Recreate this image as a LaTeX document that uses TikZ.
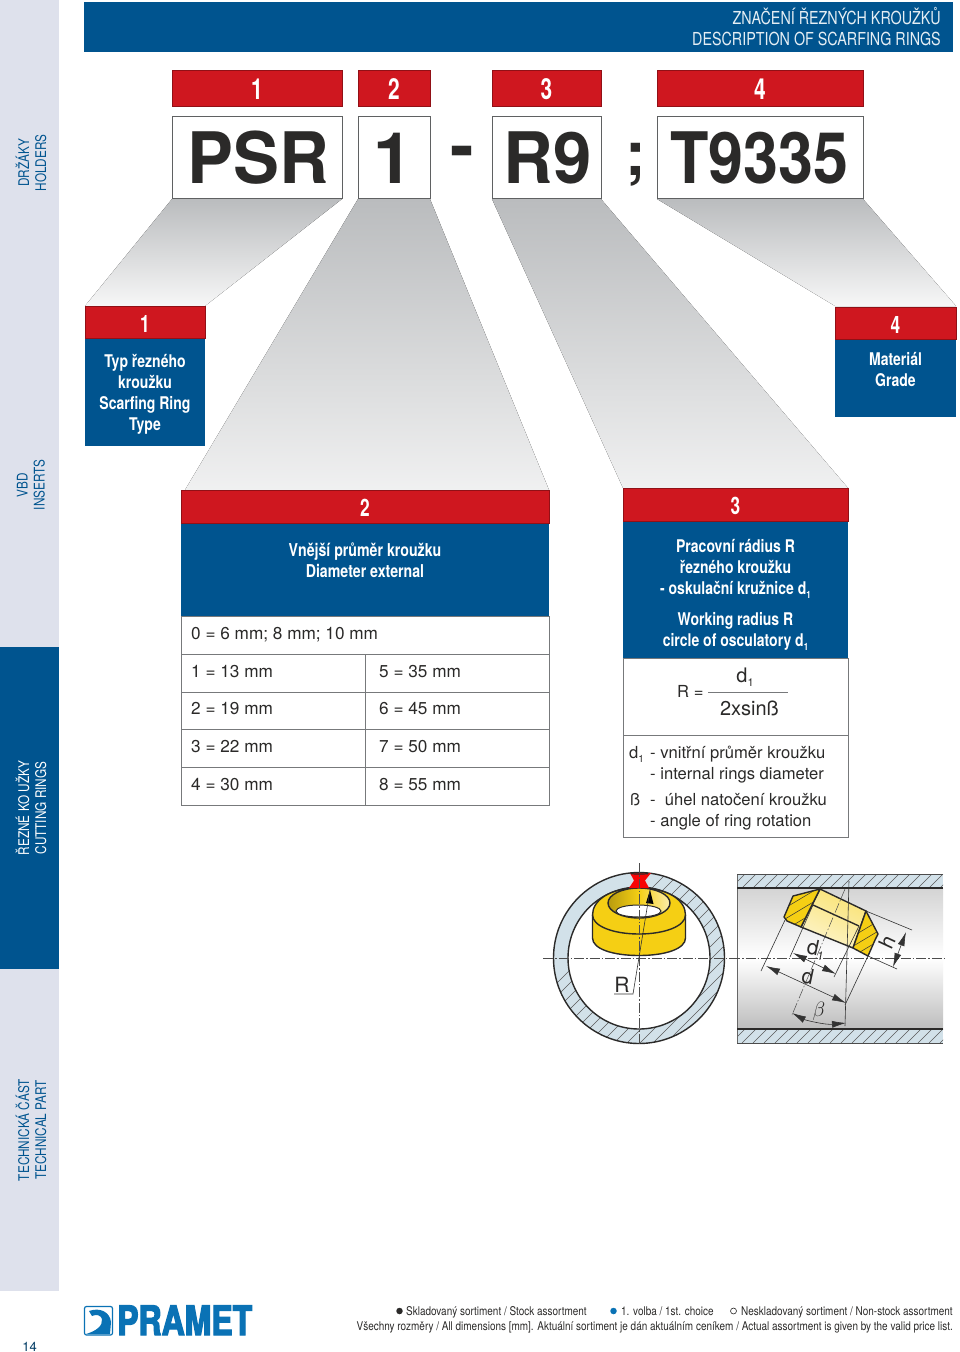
\documentclass[tikz,border=0pt]{standalone}
\usepackage{fontspec}
\usepackage{graphicx}
\setmainfont{TeX Gyre Heros}
\newfontfamily\cnd[FakeStretch=0.8]{TeX Gyre Heros}
\newfontfamily\cndside[FakeStretch=0.8]{TeX Gyre Heros}
\newfontfamily\cndn[FakeStretch=0.72]{TeX Gyre Heros}
\newfontfamily\lgd[FakeStretch=0.83]{TeX Gyre Heros}
\newfontfamily\logofont[FakeStretch=0.78,FakeBold=3]{TeX Gyre Heros}
\usetikzlibrary{arrows.meta,shadings}
\definecolor{pblue}{HTML}{00548F}
\definecolor{pred}{HTML}{CF171F}
\definecolor{side}{HTML}{DEE1EC}
\definecolor{ink}{HTML}{2B2A29}
\definecolor{lineg}{HTML}{77797B}
\definecolor{hatchf}{HTML}{D2E1E9}
\definecolor{logoblue}{HTML}{0A72B5}
\definecolor{ringy}{HTML}{F5CF14}
\definecolor{fungrey}{HTML}{BABCBE}
\tikzset{
  x=1pt,y=-1pt,
  redbox/.style={fill=pred,draw=pred!70!black,line width=.6pt},
  bluebox/.style={fill=pblue},
  codebox/.style={fill=white,draw=lineg!80!black,line width=.8pt},
  funnelA/.style={top color=fungrey,bottom color=fungrey!12,draw=none},
  funnelB/.style={top color=fungrey,bottom color=fungrey!22,draw=none},
  rednum/.style={text=white,font=\cndn\bfseries\fontsize{29}{29}\selectfont,inner sep=0pt},
  rednumS/.style={text=white,font=\cndn\bfseries\fontsize{24}{24}\selectfont,inner sep=0pt},
  codetext/.style={text=ink,font=\bfseries\fontsize{71}{71}\selectfont,inner sep=0pt},
  bluetext/.style={text=white,font=\cnd\bfseries\fontsize{17.5}{21}\selectfont,inner sep=0pt,align=center},
  rowtext/.style={text=ink,font=\fontsize{17.2}{17}\selectfont,inner sep=0pt,anchor=base west},
  notetext/.style={text=ink,font=\fontsize{16.6}{17}\selectfont,inner sep=0pt,anchor=base west},
  rowline/.style={draw=lineg,line width=.6pt},
  sidetext/.style={text=pblue,font=\cndside\fontsize{14.7}{17}\selectfont,rotate=90,inner sep=0pt,align=center},
  sidetextw/.style={sidetext,text=white},
  legend/.style={text=ink,font=\lgd\fontsize{12}{12}\selectfont,inner sep=0pt,anchor=base west},
  centerline/.style={draw=black!70,line width=.5pt,dash pattern=on 10pt off 2pt on 1.5pt off 2pt},
  hatchline/.style={draw=black!65,line width=.5pt},
  thin dim/.style={draw=black!80,line width=.6pt},
  dimarrow/.style={thin dim,{Latex[length=14pt,width=7pt]}-{Latex[length=14pt,width=7pt]}},
  thick outline/.style={draw=ink,line width=1.4pt,line join=round},
}
\begin{document}
\begin{tikzpicture}
\useasboundingbox (0,0) rectangle (960,1352);
\fill[white] (0,0) rectangle (960,1352);
% sidebar
\fill[side] (0,0) rectangle (59,1291);
\fill[pblue] (0,647) rectangle (59,969);
\node[sidetext] (sideA) at (31,163) {DRŽÁKY\\HOLDERS};
\node[sidetext] (sideB) at (31,485) {VBD\\INSERTS};
\node[sidetextw] (sideC) at (31,808) {ŘEZNÉ KO UŽKY\\CUTTING RINGS};
\node[sidetext] (sideD) at (31,1130) {TECHNICKÁ ČÁST\\TECHNICAL PART};
% header
\fill[pblue] (84,2) rectangle (953,52);
\node[text=white!90!pblue,font=\cnd\fontsize{17.9}{21}\selectfont,anchor=east,align=right,inner sep=0pt] (head) at (941,27) {ZNAČENÍ ŘEZNÝCH KROUŽKŮ\\DESCRIPTION OF SCARFING RINGS};
% funnels
\fill[funnelA] (172,199) -- (342,199) -- (205,306) -- (85,306) -- cycle;
\fill[funnelB] (358,199) -- (430,199) -- (549,490) -- (185,490) -- cycle;
\fill[funnelB] (492,199) -- (601,199) -- (848,488) -- (623,488) -- cycle;
\fill[funnelA] (657,199) -- (863,199) -- (956,306) -- (835,306) -- cycle;
% code row
\path[redbox] (172,70) rectangle (342,106);
\path[redbox] (358,70) rectangle (430,106);
\path[redbox] (492,70) rectangle (601,106);
\path[redbox] (657,70) rectangle (863,106);
\node[rednum] (n1) at (257,89) {1};
\node[rednum] (n2) at (394,89) {2};
\node[rednum] (n3) at (546.5,89) {3};
\node[rednum] (n4) at (760,89) {4};
\path[codebox] (172,116) rectangle (342,198);
\path[codebox] (358,116) rectangle (430,198);
\path[codebox] (492,116) rectangle (601,198);
\path[codebox] (657,116) rectangle (863,198);
\node[codetext,anchor=base] (c1) at (258,183) {\scalebox{.97}[1]{PSR}};
\node[codetext,anchor=base] (c2) at (393,183) {1};
\node[codetext,anchor=base] (c3) at (547.5,183) {\scalebox{.97}[1]{R9}};
\node[codetext,anchor=base] (c4) at (759.5,183) {\scalebox{.885}[1]{T9335}};
\node[codetext,anchor=base] (dash) at (462,170) {-};
\node[codetext,anchor=base,font=\bfseries\fontsize{62}{62}\selectfont] (semi) at (635.5,175) {;};
% box 1
\path[bluebox] (85,338) rectangle (205,446);
\path[redbox] (85,306) rectangle (205,338);
\node[rednumS] (b1n) at (145,323.5) {1};
\node[bluetext] (b1t) at (145,394) {Typ řezného\\kroužku\\Scarfing Ring\\Type};
% box 4
\path[bluebox] (835,339) rectangle (956,417);
\path[redbox] (835,307) rectangle (956,339);
\node[rednumS] (b4n) at (895.5,324.5) {4};
\node[bluetext] (b4t) at (895.5,369.5) {Materiál\\Grade};
% box 2
\path[rowline,fill=white] (181,616) rectangle (549,805);
\path[bluebox] (181,523) rectangle (549,616);
\path[redbox] (181,490) rectangle (549,523);
\node[rednumS] (b2n) at (365,508) {2};
\node[bluetext,font=\cnd\bfseries\fontsize{17.7}{21}\selectfont] (b2t) at (365,560.5) {Vnější průměr kroužku\\Diameter external};
\draw[rowline] (181,654) -- (549,654);
\draw[rowline] (181,692) -- (549,692);
\draw[rowline] (181,729) -- (549,729);
\draw[rowline] (181,767) -- (549,767);
\draw[rowline] (365,654) -- (365,805);
\node[rowtext] (r0) at (191,639) {0 = 6 mm; 8 mm; 10 mm};
\node[rowtext] (r1) at (191,677) {1 = 13 mm};
\node[rowtext] (r2) at (191,714) {2 = 19 mm};
\node[rowtext] (r3) at (191,752) {3 = 22 mm};
\node[rowtext] (r4) at (191,790) {4 = 30 mm};
\node[rowtext] (r5) at (379,677) {5 = 35 mm};
\node[rowtext] (r6) at (379,714) {6 = 45 mm};
\node[rowtext] (r7) at (379,752) {7 = 50 mm};
\node[rowtext] (r8) at (379,790) {8 = 55 mm};
% box 3
\path[rowline,fill=white] (623,658) rectangle (848,837);
\path[bluebox] (623,521) rectangle (848,658);
\path[redbox] (623,488) rectangle (848,521);
\node[rednumS] (b3n) at (735.5,506) {3};
\node[bluetext,anchor=base] (b3a) at (735.5,552) {Pracovní rádius R};
\node[bluetext,anchor=base] (b3b) at (735.5,573) {řezného kroužku};
\node[bluetext,anchor=base] (b3c) at (735.5,594) {- oskulační kružnice d\raisebox{-4pt}{\fontsize{10}{10}\selectfont 1}};
\node[bluetext,anchor=base] (b3d) at (735.5,625) {Working radius R};
\node[bluetext,anchor=base] (b3e) at (735.5,646) {circle of osculatory d\raisebox{-4pt}{\fontsize{10}{10}\selectfont 1}};
\draw[rowline] (623,735) -- (848,735);
\node[notetext] (fR) at (677,697) {R =};
\draw[rowline] (708,692.5) -- (788,692.5);
\node[rowtext,font=\fontsize{20}{20}\selectfont,anchor=base] (fd) at (745,682) {d\raisebox{-4pt}{\fontsize{11}{11}\selectfont 1}};
\node[rowtext,font=\fontsize{20}{20}\selectfont,anchor=base] (fs) at (749.5,715) {2xsinß};
\node[notetext] (t1a) at (629,758) {d\raisebox{-4pt}{\fontsize{10}{10}\selectfont 1}};
\node[notetext] (t1b) at (650,758) {- vnitřní průměr kroužku};
\node[notetext] (t1c) at (650,779) {- internal rings diameter};
\node[notetext] (t2a) at (630,805) {ß};
\node[notetext] (t2b) at (650,805) {-\ \ úhel natočení kroužku};
\node[notetext] (t2c) at (650,826) {- angle of ring rotation};
% circle section
\fill[hatchf,even odd rule] (639,958) circle[radius=85.5] (639,958) circle[radius=71];
\begin{scope}[even odd rule]
  \clip (639,958) circle[radius=85.5] (639,958) circle[radius=71];
  \foreach \k in {0,...,26} {
    \draw[hatchline] (540+\k*13-60,1060) -- (540+\k*13+140,860);
  }
\end{scope}
\draw[thick outline] (639,958) circle[radius=85.5];
\draw[thick outline] (639,958) circle[radius=71];
% yellow ring
\path[fill=ringy,thick outline] (592.5,915) .. controls (592.5,900) and (610,888) .. (639,888) .. controls (668,888) and (685.5,900) .. (685.5,915) -- (685.5,938) .. controls (685.5,949) and (665,955.5) .. (639,955.5) .. controls (613,955.5) and (592.5,949) .. (592.5,938) -- cycle;
\draw[thick outline] (592.5,915) .. controls (592.5,926) and (613,934) .. (639,934) .. controls (665,934) and (685.5,926) .. (685.5,915);
\path[left color=ringy!75!black,right color=ringy!35,middle color=ringy,thick outline] (639,903) ellipse[x radius=31,y radius=15];
\path[fill=white,draw=ink,line width=1pt] (638.5,911) ellipse[x radius=22.5,y radius=6];
% red marker
\fill[red!85!pred] (630,873) -- (651,873) -- (645,880.5) -- (649,888) -- (629,888) -- (634,880.5) -- cycle;
\draw[ink,line width=1.2pt] (630.5,873.6) arc[start angle=96,end angle=84,radius=85.5];
\draw[centerline] (543,958) -- (737,958);
\draw[centerline] (639,863) -- (639,1045);
\coordinate (rapex) at (650,890);
\coordinate (rfoot) at (633,994);
\coordinate (rend) at (614,994);
\fill[black] (rapex) -- (653.5,904) -- (646,903) -- cycle;
\draw[thin dim] (rapex) -- (rfoot) -- (rend);
\node[inner sep=0pt,text=ink,font=\fontsize{21}{21}\selectfont,anchor=base] (Rl) at (622,992) {R};
% tube section
\path[top color=black!17,bottom color=white] (737,888) rectangle (943,958);
\path[top color=white,bottom color=black!26] (737,958) rectangle (943,1029);
\fill[hatchf] (737,874) rectangle (943,888);
\fill[hatchf] (737,1029) rectangle (943,1043);
\begin{scope}
  \clip (737,874) rectangle (943,888);
  \foreach \k in {0,...,22} {\draw[hatchline] (720+\k*11,888) -- (734+\k*11,874);}
\end{scope}
\begin{scope}
  \clip (737,1029) rectangle (943,1043);
  \foreach \k in {0,...,22} {\draw[hatchline] (720+\k*11,1043) -- (734+\k*11,1029);}
\end{scope}
\draw[draw=black!60,line width=.7pt] (737,874) -- (737,1043);
\draw[draw=black!70,line width=1pt] (737,874) -- (943,874);
\draw[draw=black!70,line width=.6pt] (737,1043) -- (943,1043);
\draw[draw=ink,line width=1.4pt] (737,888) -- (943,888);
\draw[draw=ink,line width=1.4pt] (737,1029) -- (943,1029);
\draw[centerline] (730,958) -- (945,958);
% tilted ring
\path[left color=ringy!60,middle color=white!92!ringy,right color=ringy!22,shading angle=-25,thick outline] (820,889) -- (866,911) -- (853,948) -- (801,927) -- cycle;
\draw[thick outline] (813,905) -- (859,926);
\path[fill=ringy,thick outline] (793,896) -- (820,889) -- (801,927) -- (787,921) -- (784,917) -- cycle;
\path[fill=ringy,thick outline] (866,911) -- (878,934) -- (875,940) -- (868,956) -- (853,948) -- cycle;
\begin{scope}
  \clip (793,896) -- (820,889) -- (801,927) -- (787,921) -- (784,917) -- cycle;
  \foreach \k in {0,1,2,3} {\draw[hatchline,black!80] (780,911+\k*11) -- (820,887+\k*11);}
\end{scope}
\begin{scope}
  \clip (866,911) -- (878,934) -- (875,940) -- (868,956) -- (853,948) -- cycle;
  \foreach \k in {0,1,2,3} {\draw[hatchline,black!80] (850,938+\k*10) -- (880,920+\k*10);}
\end{scope}
% dimensions
\coordinate (vt) at (849,881);
\coordinate (vb) at (845,1026);
\coordinate (ax) at (792,1015);
\coordinate (axt) at (845,889);
\draw[thin dim] (vt) -- (vb);
\draw[centerline] (axt) -- (ax);
\coordinate (dl0) at (785,920); \coordinate (dl1) at (761,971);
\coordinate (dr0) at (868,956); \coordinate (dr1) at (845,1005);
\draw[thin dim] (dl0) -- (dl1);
\draw[thin dim] (dr0) -- (dr1);
\coordinate (da) at (766,966); \coordinate (db) at (846,1003);
\draw[dimarrow] (da) -- (db);
\coordinate (d1l0) at (813,905); \coordinate (d1l1) at (790,957);
\coordinate (d1r0) at (859,926); \coordinate (d1r1) at (834,977);
\draw[thin dim] (d1l0) -- (d1l1);
\draw[thin dim] (d1r0) -- (d1r1);
\coordinate (d1a) at (793,953); \coordinate (d1b) at (836,974);
\draw[dimarrow] (d1a) -- (d1b);
\coordinate (ha) at (906,932); \coordinate (hb) at (893,967);
\coordinate (hl0) at (866,911); \coordinate (hl1) at (912,930);
\coordinate (hr0) at (868,956); \coordinate (hr1) at (897,969);
\draw[thin dim] (hl0) -- (hl1);
\draw[thin dim] (hr0) -- (hr1);
\draw[dimarrow] (ha) -- (hb);
\coordinate (bl) at (792,1013); \coordinate (br) at (846,1023);
\draw[dimarrow] (bl) .. controls (805,1020) and (825,1025) .. (br);
\node[inner sep=0pt,text=ink,font=\fontsize{21}{21}\selectfont,rotate=-12] (dlab) at (808,976) {d};
\node[inner sep=0pt,text=ink,font=\fontsize{21}{21}\selectfont,rotate=-12] (d1lab) at (816,950) {d\raisebox{-4pt}{\fontsize{12}{12}\selectfont 1}};
\node[inner sep=0pt,text=ink,font=\fontsize{21}{21}\selectfont,rotate=65] (hlab) at (887,942) {h};
\node[inner sep=0pt,text=ink,font=\fontsize{21}{21}\selectfont] (blab) at (819,1011) {$\beta$};
% logo
\path[fill=white,draw=logoblue,line width=1.2pt,rounded corners=2pt] (84.5,1306.5) rectangle (112.5,1335);
\fill[logoblue] (89,1311) .. controls (100,1307) and (110,1312) .. (111,1322) -- (110,1334) -- (86,1334) .. controls (96,1331) and (103,1326) .. (102,1319) .. controls (101,1315) and (96,1314) .. (92,1316) -- cycle;
\node[anchor=base west,inner sep=0pt,text=logoblue] (logo) at (117,1335) {\resizebox{135pt}{29.5pt}{\logofont\bfseries PRAMET}};
\node[inner sep=0pt,text=pblue!70!black,font=\fontsize{13}{13}\selectfont] (page) at (29.5,1346.5) {14};
% legend
\node[circle,fill=ink,inner sep=0pt,minimum size=6.5pt] (la) at (399.5,1311) {};
\node[legend] (lat) at (406,1315) {Skladovaný sortiment / Stock assortment};
\node[circle,fill=logoblue,inner sep=0pt,minimum size=6.5pt] (lb) at (613.5,1311) {};
\node[legend] (lbt) at (621,1315) {1. volba / 1st. choice};
\node[circle,fill=white,draw=ink,line width=.6pt,inner sep=0pt,minimum size=6pt] (lc) at (733.5,1311) {};
\node[legend] (lct) at (741,1315) {Neskladovaný sortiment / Non-stock assortment};
\node[legend,anchor=base east] (ld) at (953,1330) {Všechny rozměry / All dimensions [mm]. Aktuální sortiment je dán aktuálním ceníkem / Actual assortment is given by the valid price list.};
\end{tikzpicture}
\end{document}
